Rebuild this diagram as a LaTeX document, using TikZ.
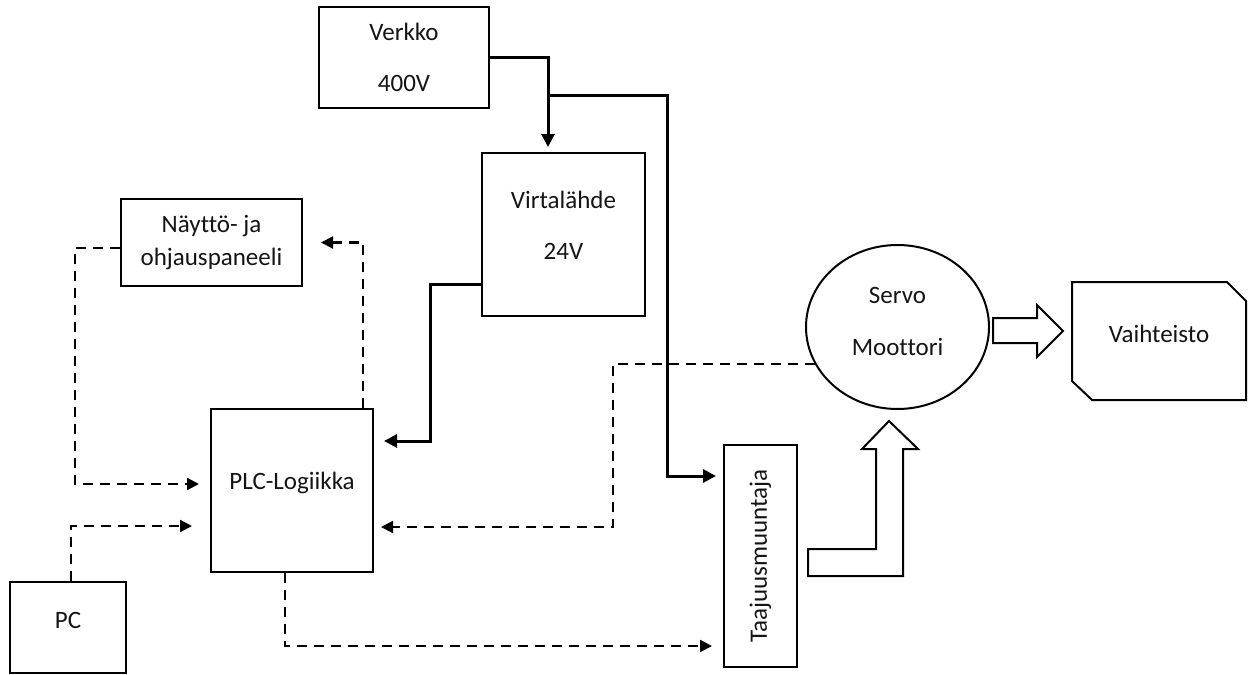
\documentclass[tikz,border=0pt]{standalone}
\usepackage{fontspec}
\setmainfont{Carlito}[Ligatures=NoCommon]
\usepackage{graphicx}
\usetikzlibrary{arrows.meta,calc,positioning,shapes.geometric}
\definecolor{lineBlack}{RGB}{0,0,0}
\definecolor{textBlack}{RGB}{20,20,20}

\begin{document}
\begin{tikzpicture}[x=0.5pt,y=-0.5pt,
    box/.style={draw=lineBlack, line width=1pt, inner sep=0pt, align=center, text=textBlack,
        font=\fontsize{12.5}{15}\selectfont},
    power/.style={lineBlack, line width=1.5pt, -{Triangle[length=6.5pt,width=6.5pt]}},
    signal/.style={lineBlack, line width=1.1pt, dash pattern=on 5pt off 3.5pt,
        -{Triangle[length=6pt,width=6pt]}},
    bigarrow/.style={draw=lineBlack, line width=1pt, fill=white, line join=miter}]
    \useasboundingbox (0,0) rectangle (1251,674);

    % blocks
    \node[box, minimum width=85pt, minimum height=50.5pt] (verkko) at (404,57.5) {Verkko\\[10.5pt]400V};
    \node[box, minimum width=81.5pt, minimum height=81.5pt, text depth=9pt] (virta) at (563.5,234.5) {Virtalähde\\[10.5pt]24V};
    \node[box, minimum width=90.5pt, minimum height=43.5pt] (panel) at (211.5,242.5) {Näyttö- ja\\[1.5pt]ohjauspaneeli};
    \node[box, minimum width=81pt, minimum height=81.5pt, text depth=10pt] (plc) at (292,490.5) {PLC-Logiikka};
    \node[box, minimum width=58pt, minimum height=45.5pt, text depth=7.5pt] (pc) at (68,627.5) {PC};
    \node[box, minimum width=36.5pt, minimum height=111pt] (taajuus) at (760.5,556) {\rotatebox{90}{Taajuusmuuntaja}};
    \node[box, ellipse, minimum width=91.5pt, minimum height=82pt, text depth=6pt] (servo) at (897.5,327) {Servo\\[11pt]Moottori};
    \node[box, draw=none, minimum width=86pt, minimum height=58pt, text depth=7pt] (gear) at (1159,341) {Vaihteisto};
    \draw[lineBlack, line width=1pt] (gear.north west) -- ([xshift=-9.5pt]gear.north east)
        -- ([yshift=-9.5pt]gear.north east) -- (gear.south east)
        -- ([xshift=10pt]gear.south west) -- ([yshift=9.5pt]gear.south west) -- cycle;

    % power supply lines
    \coordinate (split) at (548,95.5);
    \coordinate (riser) at (667.5,95.5);
    \draw[power, shorten >=2.5pt] (verkko.east) -| ([xshift=-7.75pt]virta.north);
    \draw[power, shorten >=3.5pt] (split) -- (riser) |- ([yshift=40pt]taajuus.west);
    \draw[power, shorten >=5pt] ([yshift=-24.75pt]virta.west) -- ++(-25.5pt,0) |- ([yshift=24.75pt]plc.east);

    % signal lines
    \coordinate (fbk) at (613,0);
    \draw[signal, shorten >=3.5pt] (servo.204) -- (servo.204 -| fbk) |- ([yshift=-18.25pt]plc.east);
    \draw[signal, shorten >=5.5pt] ([xshift=-3.5pt]plc.south) |- ([yshift=-45pt]taajuus.west);
    \draw[signal, shorten >=9pt] ([xshift=35.5pt]plc.north) |- (panel.east);
    \draw[signal, shorten >=5.5pt] ([yshift=-2.75pt]panel.west) -- ++(-22.5pt,0) |- ([yshift=3.25pt]plc.west);
    \draw[signal, shorten >=9pt] ([xshift=1.5pt]pc.north) |- ([yshift=-17.75pt]plc.west);

    % mechanical power
    \draw[bigarrow] (993,318) -- (1037,318) -- (1037,305) -- (1063,331) -- (1037,357)
        -- (1037,343) -- (993,343) -- cycle;
    \draw[bigarrow] (808,549) -- (876,549) -- (876,449) -- (862,449) -- (889,421) -- (918,449)
        -- (903,449) -- (903,576) -- (808,576) -- cycle;
\end{tikzpicture}
\end{document}
